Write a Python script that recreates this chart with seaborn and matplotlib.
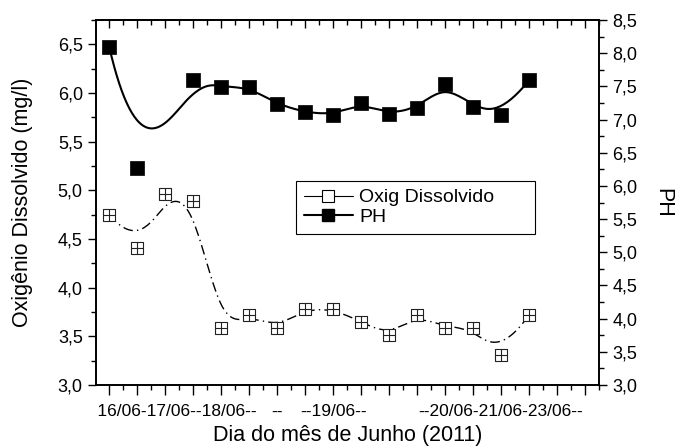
import numpy as np
import pandas as pd
import seaborn as sns
import matplotlib
matplotlib.use('Agg')
import matplotlib.pyplot as plt
from matplotlib.path import Path
from matplotlib.lines import Line2D
from matplotlib.ticker import MultipleLocator, FuncFormatter

#### Dados
amostra = np.arange(0, 16)
oxig = [4.75, 4.41, 4.96, 4.89, 3.59, 3.72, 3.59, 3.78,
        3.78, 3.65, 3.51, 3.72, 3.59, 3.59, 3.31, 3.72]
ph = [8.10, 6.27, np.nan, 7.59, 7.49, 7.49, 7.23, 7.11,
      7.07, 7.25, 7.08, 7.17, 7.53, 7.19, 7.07, 7.59]
tick_pos = np.arange(0, 18)
tick_labels = ['', '', '     16/06-17/06--18/06--', '', '', '', '--', '', '--19/06--',
               '', '', '', '', '', '--20/06-21/06-23/06--', '', '', '']


def bspline(px, py, n=400, k=3):
    # B-spline cubica "clamped" (como a ligacao B-Spline do Origin)
    P = np.column_stack([px, py])
    m = len(P)
    knots = np.concatenate([np.zeros(k), np.arange(m - k + 1), np.full(k, m - k)]).astype(float)
    t = np.linspace(0, m - k, n)
    t[-1] -= 1e-9
    N = np.zeros((n, len(knots) - 1))
    for i in range(len(knots) - 1):
        N[:, i] = (knots[i] <= t) & (t < knots[i + 1])
    for d in range(1, k + 1):
        Nn = np.zeros((n, len(knots) - 1 - d))
        for i in range(len(knots) - 1 - d):
            a = knots[i + d] - knots[i]
            b = knots[i + d + 1] - knots[i + 1]
            term = np.zeros(n)
            if a > 0:
                term += (t - knots[i]) / a * N[:, i]
            if b > 0:
                term += (knots[i + d + 1] - t) / b * N[:, i + 1]
            Nn[:, i] = term
        N = Nn
    return pd.DataFrame(N @ P, columns=['x', 'y'])


df = pd.DataFrame({'amostra': amostra, 'oxig': oxig, 'ph': ph})
df_ph = df.dropna()

sns.set_theme(style='ticks')
plt.rcParams['font.family'] = ['Liberation Sans', 'DejaVu Sans']
plt.rcParams['text.color'] = 'black'
plt.rcParams['axes.labelcolor'] = 'black'
plt.rcParams['xtick.color'] = 'black'
plt.rcParams['ytick.color'] = 'black'

fig = plt.figure(figsize=(6.8, 4.48), dpi=100)
ax = fig.add_axes([96 / 680, 1 - 385 / 448, 503 / 680, 365 / 448])
ax2 = ax.twinx()

# marcador quadrado com cruz
quadrado_cruz = Path([(-1, -1), (1, -1), (1, 1), (-1, 1), (-1, -1), (0, -1), (0, 1), (-1, 0), (1, 0)],
                     [Path.MOVETO, Path.LINETO, Path.LINETO, Path.LINETO, Path.CLOSEPOLY,
                      Path.MOVETO, Path.LINETO, Path.MOVETO, Path.LINETO])

# Oxigenio dissolvido
curva_o = bspline(df['amostra'], df['oxig'])
sns.lineplot(data=curva_o, x='x', y='y', sort=False, estimator=None, color='black',
             lw=1.0, linestyle=(0, (7, 3, 1, 3)), ax=ax)
sns.scatterplot(data=df, x='amostra', y='oxig', marker=quadrado_cruz, s=70, color='white',
                edgecolor='#222222', linewidth=0.8, ax=ax, zorder=3)

# PH
curva_p = bspline(df_ph['amostra'], df_ph['ph'])
sns.lineplot(data=curva_p, x='x', y='y', sort=False, estimator=None, color='black', lw=1.5, ax=ax2)
sns.scatterplot(data=df_ph, x='amostra', y='ph', marker='s', s=110, color='black',
                edgecolor='black', linewidth=0.5, ax=ax2, zorder=3)

virgula = FuncFormatter(lambda v, p: f'{v:.1f}'.replace('.', ','))

ax.set_xlim(-0.47, 17.5)
ax.set_xticks(tick_pos)
ax.set_xticklabels(tick_labels)
ax.xaxis.set_minor_locator(MultipleLocator(0.5))
ax.set_ylim(3.0, 6.75)
ax.yaxis.set_major_locator(MultipleLocator(0.5))
ax.yaxis.set_minor_locator(MultipleLocator(0.25))
ax.yaxis.set_major_formatter(virgula)

ax2.set_ylim(3.0, 8.5)
ax2.yaxis.set_major_locator(MultipleLocator(0.5))
ax2.yaxis.set_minor_locator(MultipleLocator(0.25))
ax2.yaxis.set_major_formatter(virgula)

ax.tick_params(axis='x', which='major', direction='out', length=7, width=1, labelsize=12.5, pad=7)
ax.tick_params(axis='x', which='minor', direction='out', length=3.5, width=1)
ax.tick_params(axis='y', which='major', direction='out', length=6, width=1, labelsize=13,
               left=True, right=False)
ax.tick_params(axis='y', which='minor', direction='out', length=3.5, width=1, left=True, right=False)
ax2.tick_params(axis='y', which='major', direction='out', length=6, width=1, labelsize=13,
                right=True, left=False)
ax2.tick_params(axis='y', which='minor', direction='out', length=3.5, width=1, right=True, left=False)

topo = ax.secondary_xaxis('top')
topo.set_xticks(tick_pos)
topo.xaxis.set_minor_locator(MultipleLocator(0.5))
topo.tick_params(axis='x', which='major', direction='in', length=6, width=1, labeltop=False)
topo.tick_params(axis='x', which='minor', direction='in', length=3.5, width=1)

for a in (ax, ax2, topo):
    for s in a.spines.values():
        s.set_linewidth(1.2)
        s.set_color('black')

ax.set_xlabel('Dia do mês de Junho (2011)', fontsize=15.5, labelpad=4)
ax.set_ylabel('Oxigênio Dissolvido (mg/l)', fontsize=15.5, labelpad=18)
ax2.set_ylabel('PH', fontsize=15.5, rotation=270, labelpad=26)

h1 = Line2D([], [], color='black', lw=0.8, marker='s', markersize=8,
            markerfacecolor='white', markeredgecolor='black', markeredgewidth=0.8)
h2 = Line2D([], [], color='black', lw=1.5, marker='s', markersize=9,
            markerfacecolor='black', markeredgecolor='black')
leg = ax2.legend([h1, h2], ['Oxig Dissolvido', 'PH'], loc='upper left',
                 bbox_to_anchor=(0.398, 0.405, 0.475, 0.154), mode='expand',
                 alignment='center', frameon=True, fancybox=False, edgecolor='black',
                 framealpha=1, fontsize=14, handlelength=2.5, borderpad=0.4,
                 labelspacing=0.1, handletextpad=0.35, borderaxespad=0)
leg.get_frame().set_linewidth(0.8)

fig.savefig('out.png', dpi=100)
